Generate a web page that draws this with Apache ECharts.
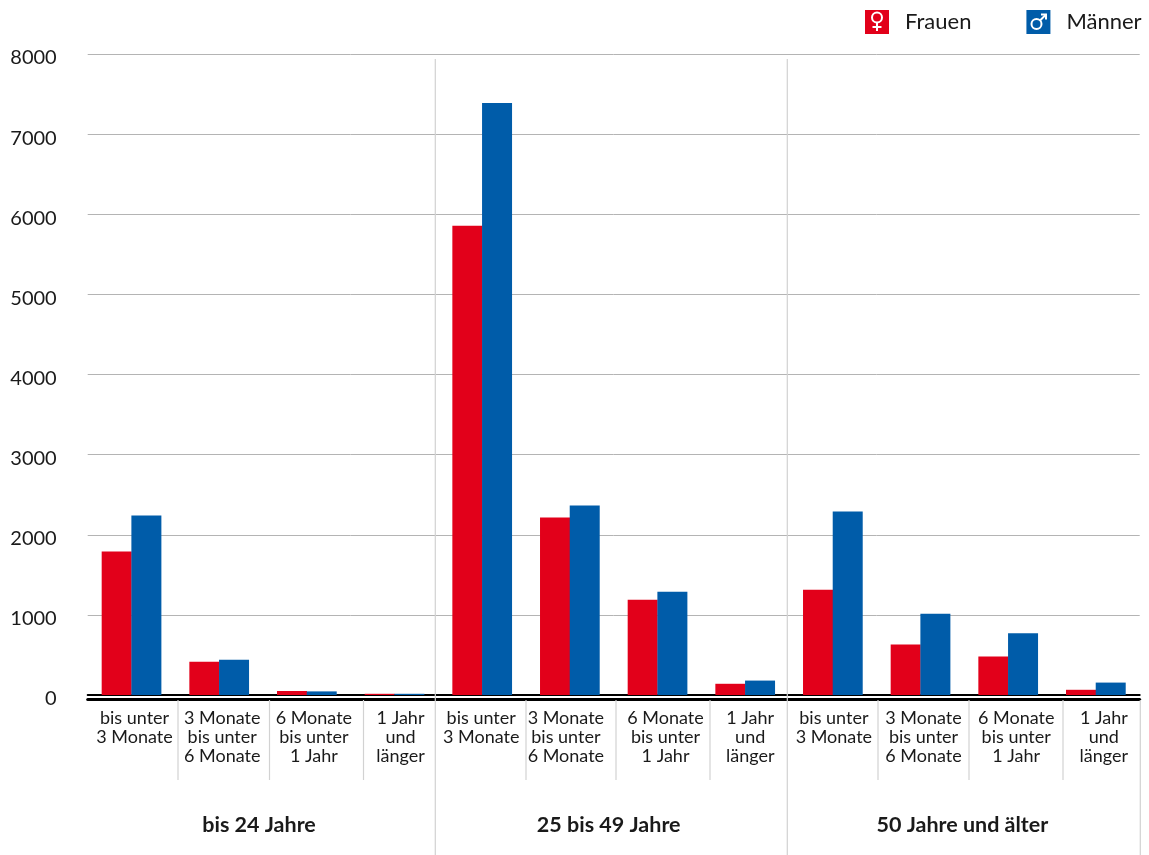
<!DOCTYPE html>
<html lang="de">
<head>
<meta charset="utf-8">
<title>Arbeitslose nach Alter und Dauer</title>
<script src="https://cdn.jsdelivr.net/npm/echarts@6/dist/echarts.min.js"></script>
<style>html,body{margin:0;padding:0;background:#fff}#chart{width:1149px;height:855px}</style>
</head>
<body>
<div id="chart"></div>
<script>
// Duration classes, repeated inside each age group
const durations = [
  'bis unter\n3 Monate', '3 Monate\nbis unter\n6 Monate', '6 Monate\nbis unter\n1 Jahr', '1 Jahr\nund\nlänger',
  'bis unter\n3 Monate', '3 Monate\nbis unter\n6 Monate', '6 Monate\nbis unter\n1 Jahr', '1 Jahr\nund\nlänger',
  'bis unter\n3 Monate', '3 Monate\nbis unter\n6 Monate', '6 Monate\nbis unter\n1 Jahr', '1 Jahr\nund\nlänger'
];
const ageGroups = ['bis 24 Jahre', '25 bis 49 Jahre', '50 Jahre und älter'];
const frauen = [1790, 415, 50, 15, 5855, 2215, 1190, 140, 1315, 630, 480, 65];
const maenner = [2240, 440, 45, 15, 7390, 2365, 1290, 180, 2290, 1015, 770, 155];
const yTicks = { min: 0, max: 8000, step: 1000 };

// Horizontal nudges (px) that set each label off its band centre
const durationShift = [3, 3, 7, 6, -1, -4, 8, 5, 1, 3, 8, 8];
const groupShift = [-4, -5, -2];

const FONT = 'Lato, "Open Sans", sans-serif';
const RED = '#e2001a', BLUE = '#005ca9', INK = '#1a1a1a', RULE = '#b4b4b4', SEP = '#d2d2d2';

// Centre-aligned rich text: padding on one side moves the line by half of it
function shiftPadding(px) {
  return px >= 0 ? [0, 0, 0, 2 * px] : [0, 2 * -px, 0, 0];
}
const durationRich = {};
durationShift.forEach((px, i) => {
  durationRich['d' + i] = { fontFamily: FONT, fontSize: 18, lineHeight: 18.7, color: INK, padding: shiftPadding(px) };
});
const groupRich = {};
groupShift.forEach((px, i) => {
  groupRich['g' + i] = { fontFamily: FONT, fontSize: 21.5, fontWeight: 'bold', color: INK, padding: shiftPadding(px) };
});

function sepLine(x, y1, y2) {
  return { type: 'line', z: 5, silent: true, shape: { x1: x, y1, x2: x, y2 }, style: { stroke: SEP, lineWidth: 1.2 } };
}
const shortSeps = [178, 269.5, 363.5, 526, 616, 710, 878, 969, 1063].map(x => sepLine(x, 700, 780));
const longSeps = [sepLine(435.3, 59, 855), sepLine(787.3, 59, 855), sepLine(1140.3, 700, 855)];

// White gender symbols laid over the legend squares
const white = { stroke: '#fff', lineWidth: 2, fill: 'none' };
const symbols = [
  { type: 'circle', z: 10, shape: { cx: 877, cy: 17.5, r: 5 }, style: white },
  { type: 'line', z: 10, shape: { x1: 877, y1: 22.5, x2: 877, y2: 31 }, style: white },
  { type: 'line', z: 10, shape: { x1: 872.5, y1: 27, x2: 881.5, y2: 27 }, style: white },
  { type: 'circle', z: 10, shape: { cx: 1036.5, cy: 24, r: 5 }, style: white },
  { type: 'line', z: 10, shape: { x1: 1040, y1: 20.5, x2: 1046, y2: 14.5 }, style: white },
  { type: 'polyline', z: 10, shape: { points: [[1041, 14.5], [1046, 14.5], [1046, 19.5]] }, style: white }
];

const chart = echarts.init(document.getElementById('chart'), null, { renderer: 'canvas' });
chart.setOption({
  animation: false,
  backgroundColor: '#fff',
  legend: {
    left: 860, top: 5,
    itemWidth: 24, itemHeight: 24, itemGap: 55,
    icon: 'rect',
    textStyle: { fontFamily: FONT, fontSize: 22, color: INK, padding: [2, 0, 0, 11] },
    data: ['Frauen', 'Männer']
  },
  grid: { left: 87.7, top: 54, width: 1052, height: 641 },
  xAxis: [
    {
      type: 'category', data: durations, position: 'bottom',
      axisLine: { lineStyle: { color: '#000', width: 2 } },
      axisTick: { show: false },
      axisLabel: {
        interval: 0, margin: 14,
        formatter: (value, i) => value.split('\n').map(l => `{d${i}|${l}}`).join('\n'),
        rich: durationRich
      }
    },
    {
      type: 'category', data: ageGroups, position: 'bottom', offset: 4,
      axisLine: { onZero: false, lineStyle: { color: '#000', width: 3 } },
      axisTick: { show: false },
      axisLabel: {
        interval: 0, margin: 115,
        formatter: (value, i) => `{g${i}|${value}}`,
        rich: groupRich
      }
    }
  ],
  yAxis: {
    type: 'value', min: yTicks.min, max: yTicks.max, interval: yTicks.step,
    axisLine: { show: false }, axisTick: { show: false },
    splitLine: { lineStyle: { color: RULE, width: 1 } },
    axisLabel: {
      margin: 31,
      formatter: value => `{t|${value}}`,
      rich: { t: { fontFamily: FONT, fontSize: 20, color: INK, padding: [8, 0, 0, 0] } }
    }
  },
  series: [
    { name: 'Frauen', type: 'bar', xAxisIndex: 0, data: frauen, barWidth: 30, barGap: '-1%', itemStyle: { color: RED } },
    { name: 'Männer', type: 'bar', xAxisIndex: 0, data: maenner, barWidth: 30, barGap: '-1%', itemStyle: { color: BLUE } }
  ],
  graphic: { elements: [...shortSeps, ...longSeps, ...symbols] }
});
</script>
</body>
</html>
